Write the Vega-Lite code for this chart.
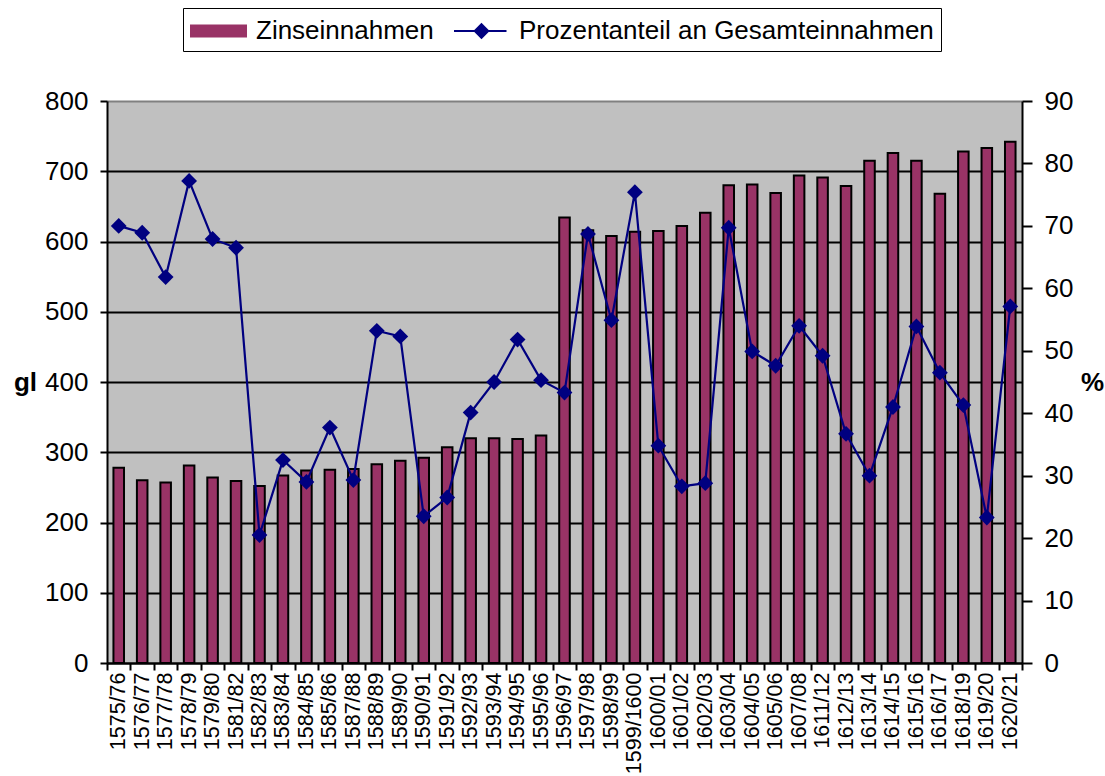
{
  "$schema": "https://vega.github.io/schema/vega-lite/v6.json",
  "width": 915,
  "height": 562,
  "autosize": "none",
  "padding": {"left": 107, "top": 101, "right": 83, "bottom": 113},
  "background": "white",
  "config": {
    "font": "Liberation Sans",
    "view": {"fill": "#C0C0C0", "stroke": null},
    "axis": {"labelColor": "black", "titleColor": "black", "domainColor": "black", "tickColor": "black", "labelFont": "Liberation Sans", "titleFont": "Liberation Sans"},
    "legend": {
      "orient": "none", "legendX": 76, "legendY": -93, "direction": "horizontal", "columns": 2,
      "labelFontSize": 26, "labelFont": "Liberation Sans", "labelColor": "black", "labelLimit": 0,
      "symbolSize": 900, "labelOffset": 34, "columnPadding": 16, "padding": 7,
      "strokeColor": "black", "fillColor": "white", "symbolStrokeWidth": 2
    }
  },
  "data": {
    "values": [
      {"year": "1575/76", "gl": 278, "pct": 70.0},
      {"year": "1576/77", "gl": 260, "pct": 68.9},
      {"year": "1577/78", "gl": 257, "pct": 61.8},
      {"year": "1578/79", "gl": 281, "pct": 77.2},
      {"year": "1579/80", "gl": 264, "pct": 67.9},
      {"year": "1581/82", "gl": 259, "pct": 66.5},
      {"year": "1582/83", "gl": 252, "pct": 20.5},
      {"year": "1583/84", "gl": 267, "pct": 32.5},
      {"year": "1584/85", "gl": 274, "pct": 29.0},
      {"year": "1585/86", "gl": 275, "pct": 37.7},
      {"year": "1587/88", "gl": 276, "pct": 29.3},
      {"year": "1588/89", "gl": 283, "pct": 53.2},
      {"year": "1589/90", "gl": 288, "pct": 52.3},
      {"year": "1590/91", "gl": 292, "pct": 23.5},
      {"year": "1591/92", "gl": 307, "pct": 26.5},
      {"year": "1592/93", "gl": 320, "pct": 40.1},
      {"year": "1593/94", "gl": 320, "pct": 45.0},
      {"year": "1594/95", "gl": 319, "pct": 51.8},
      {"year": "1595/96", "gl": 324, "pct": 45.3},
      {"year": "1596/97", "gl": 634, "pct": 43.3},
      {"year": "1597/98", "gl": 616, "pct": 68.7},
      {"year": "1598/99", "gl": 608, "pct": 54.9},
      {"year": "1599/1600", "gl": 614, "pct": 75.4},
      {"year": "1600/01", "gl": 615, "pct": 34.8},
      {"year": "1601/02", "gl": 622, "pct": 28.3},
      {"year": "1602/03", "gl": 641, "pct": 28.8},
      {"year": "1603/04", "gl": 680, "pct": 69.7},
      {"year": "1604/05", "gl": 681, "pct": 49.9},
      {"year": "1605/06", "gl": 669, "pct": 47.6},
      {"year": "1607/08", "gl": 694, "pct": 54.0},
      {"year": "1611/12", "gl": 691, "pct": 49.2},
      {"year": "1612/13", "gl": 679, "pct": 36.7},
      {"year": "1613/14", "gl": 715, "pct": 30.0},
      {"year": "1614/15", "gl": 726, "pct": 41.0},
      {"year": "1615/16", "gl": 715, "pct": 53.9},
      {"year": "1616/17", "gl": 668, "pct": 46.5},
      {"year": "1618/19", "gl": 728, "pct": 41.3},
      {"year": "1619/20", "gl": 733, "pct": 23.3},
      {"year": "1620/21", "gl": 742, "pct": 57.1}
    ]
  },
  "layer": [
    {
      "mark": {"type": "bar", "stroke": "black", "strokeWidth": 2, "width": {"band": 0.45}},
      "encoding": {
        "x": {
          "field": "year", "type": "nominal", "sort": null,
          "scale": {"paddingInner": 0, "paddingOuter": 0},
          "axis": {"title": null, "labelAngle": -90, "labelFontSize": 21.5, "labelPadding": 2, "tickSize": 7, "tickWidth": 2, "tickBand": "extent", "domainWidth": 2, "grid": false}
        },
        "y": {
          "field": "gl", "type": "quantitative",
          "scale": {"domain": [0, 800], "nice": false},
          "axis": {
            "values": [0, 100, 200, 300, 400, 500, 600, 700, 800],
            "title": "gl", "titleAngle": 0, "titleX": -82, "titleY": 281, "titleAlign": "center", "titleBaseline": "middle",
            "titleFontSize": 26, "titleFontWeight": "bold",
            "labelFontSize": 26, "labelPadding": 12, "tickSize": 7, "tickWidth": 2, "domainWidth": 2,
            "grid": true, "gridWidth": 2,
            "gridColor": {"condition": {"test": "datum.value == 800", "value": "#808080"}, "value": "black"}
          }
        },
        "color": {
          "datum": "Zinseinnahmen", "type": "nominal",
          "scale": {"domain": ["Zinseinnahmen", "Prozentanteil an Gesamteinnahmen"], "range": ["#993366", "#000080"]},
          "legend": {
            "title": null,
            "symbolType": {"expr": "datum.value === 'Zinseinnahmen' ? 'M-1,-0.37H2.667V0.37H-1Z' : 'M-1,0H2.5M0.833,-0.45L1.283,0L0.833,0.45L0.383,0Z'"},
            "symbolStrokeColor": {"expr": "datum.value === 'Zinseinnahmen' ? 'black' : '#000080'"}
          }
        }
      }
    },
    {
      "mark": {"type": "line", "strokeWidth": 2.2, "point": {"shape": "diamond", "size": 250, "filled": true, "opacity": 1}},
      "encoding": {
        "x": {"field": "year", "type": "nominal", "sort": null},
        "y": {
          "field": "pct", "type": "quantitative",
          "scale": {"domain": [0, 90], "nice": false},
          "axis": {
            "orient": "right",
            "values": [0, 10, 20, 30, 40, 50, 60, 70, 80, 90],
            "title": "%", "titleAngle": 0, "titleX": 70, "titleY": 281, "titleAlign": "center", "titleBaseline": "middle",
            "titleFontSize": 26, "titleFontWeight": "bold",
            "labelFontSize": 26, "labelPadding": 12, "tickSize": 10, "tickWidth": 2, "domainWidth": 2, "grid": false
          }
        },
        "color": {"datum": "Prozentanteil an Gesamteinnahmen", "type": "nominal"}
      }
    }
  ],
  "resolve": {"scale": {"y": "independent"}}
}
